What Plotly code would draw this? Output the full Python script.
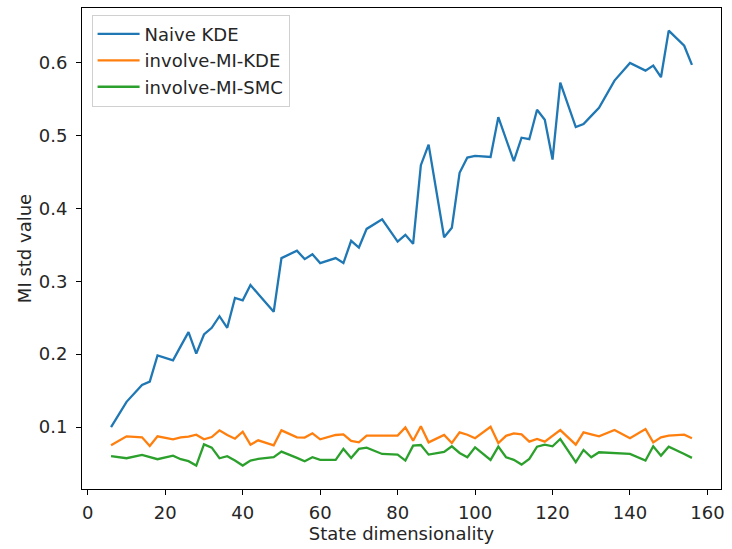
import plotly.graph_objects as go

dims = [6, 10, 14, 16, 18, 22, 24, 26, 28, 30,
        32, 34, 36, 38, 40, 42, 44, 48, 50, 54,
        56, 58, 60, 62, 64, 66, 68, 70, 72, 76,
        80, 82, 84, 86, 88, 92, 94, 96, 98, 100,
        104, 106, 108, 110, 112, 114, 116, 118, 120, 122,
        126, 128, 130, 132, 136, 140, 144, 146, 148, 150,
        154, 156]

naive_kde = [0.100, 0.1346, 0.1578, 0.1624, 0.1984, 0.1915, 0.211, 0.2302, 0.2007, 0.2270,
             0.2362, 0.2521, 0.2362, 0.2772, 0.2739, 0.2949, 0.2826, 0.2581, 0.3318, 0.342,
             0.3304, 0.337, 0.325, 0.328, 0.3318, 0.325, 0.3555, 0.3463, 0.3719, 0.3851,
             0.3545, 0.3637, 0.3514, 0.4593, 0.4876, 0.3605, 0.3736, 0.4488, 0.4698, 0.472,
             0.4706, 0.5253, 0.495, 0.4648, 0.497, 0.495, 0.5353, 0.5217, 0.4671, 0.5727,
             0.5116, 0.5157, 0.527, 0.5381, 0.5754, 0.5996, 0.5891, 0.5959, 0.580, 0.6439,
             0.6232, 0.5969]

involve_kde = [0.075, 0.0873, 0.0859, 0.074, 0.0873, 0.0832, 0.0859, 0.087, 0.0895, 0.0832,
               0.0863, 0.0955, 0.089, 0.084, 0.0936, 0.0758, 0.0818, 0.075, 0.0955, 0.0859,
               0.0855, 0.0914, 0.0832, 0.0859, 0.0891, 0.090, 0.0809, 0.079, 0.0882, 0.0882,
               0.0882, 0.0995, 0.0813, 0.101, 0.079, 0.0891, 0.0781, 0.0927, 0.0895, 0.0846,
               0.1004, 0.0781, 0.088, 0.0914, 0.090, 0.080, 0.0836, 0.080, 0.088, 0.0959,
               0.0758, 0.0927, 0.090, 0.0873, 0.0959, 0.0846, 0.0973, 0.079, 0.0859, 0.0882,
               0.0895, 0.0846]

involve_smc = [0.060, 0.0572, 0.0617, 0.059, 0.0559, 0.0608, 0.0559, 0.0532, 0.0472, 0.0763,
               0.0718, 0.0572, 0.060, 0.054, 0.0472, 0.054, 0.0563, 0.0586, 0.0663, 0.0577,
               0.053, 0.0586, 0.0549, 0.0549, 0.0549, 0.070, 0.0577, 0.070, 0.0718, 0.0631,
               0.0622, 0.054, 0.0745, 0.0754, 0.0622, 0.0658, 0.0736, 0.0645, 0.0586, 0.0722,
               0.0549, 0.0731, 0.0586, 0.055, 0.0485, 0.0563, 0.0731, 0.0758, 0.0736, 0.0836,
               0.0518, 0.0686, 0.0586, 0.0654, 0.064, 0.0631, 0.054, 0.0736, 0.0608, 0.0731,
               0.0631, 0.0577]

series_names = ["Naive KDE", "involve-MI-KDE", "involve-MI-SMC"]
colors = ["#1f77b4", "#ff7f0e", "#2ca02c"]

x_ticks = [0, 20, 40, 60, 80, 100, 120, 140, 160]
y_ticks = [0.1, 0.2, 0.3, 0.4, 0.5, 0.6]

fig = go.Figure()
for i, (name, vals, c) in enumerate(zip(series_names, [naive_kde, involve_kde, involve_smc], colors)):
    fig.add_trace(go.Scatter(x=dims, y=vals, mode="lines", name=name,
                             legendgroup=f"g{i}",
                             line=dict(color=c, width=2.3)))

font_family = "DejaVu Sans"
fs = 18
fig.update_layout(
    width=732, height=549,
    margin=dict(l=82, r=7, t=8, b=60),
    paper_bgcolor="white", plot_bgcolor="white",
    font=dict(family=font_family, size=fs, color="#262626"),
    showlegend=True,
    legend=dict(x=0.015, y=0.986, xanchor="left", yanchor="top",
                bgcolor="rgba(255,255,255,0.8)", bordercolor="#d0d0d0", borderwidth=1,
                font=dict(family=font_family, size=fs, color="#262626"),
                tracegroupgap=0, itemwidth=42),
    xaxis=dict(range=[-1.5, 163.5], tickvals=x_ticks, ticktext=[str(v) for v in x_ticks],
               showgrid=False, zeroline=False, showline=True, linecolor="black",
               linewidth=1, mirror=True, ticks="outside", ticklen=5, tickcolor="black",
               ticklabelstandoff=2,
               title=dict(text="State dimensionality", standoff=4, font=dict(size=fs)),
               tickfont=dict(size=fs)),
    yaxis=dict(range=[0.015, 0.675], tickvals=y_ticks, ticktext=[f"{v:.1f}" for v in y_ticks],
               showgrid=False, zeroline=False, showline=True, linecolor="black",
               linewidth=1, mirror=True, ticks="outside", ticklen=5, tickcolor="black",
               ticklabelstandoff=5,
               title=dict(text="MI std value", standoff=2, font=dict(size=fs)),
               tickfont=dict(size=fs)),
)

fig.write_html("out.html")
